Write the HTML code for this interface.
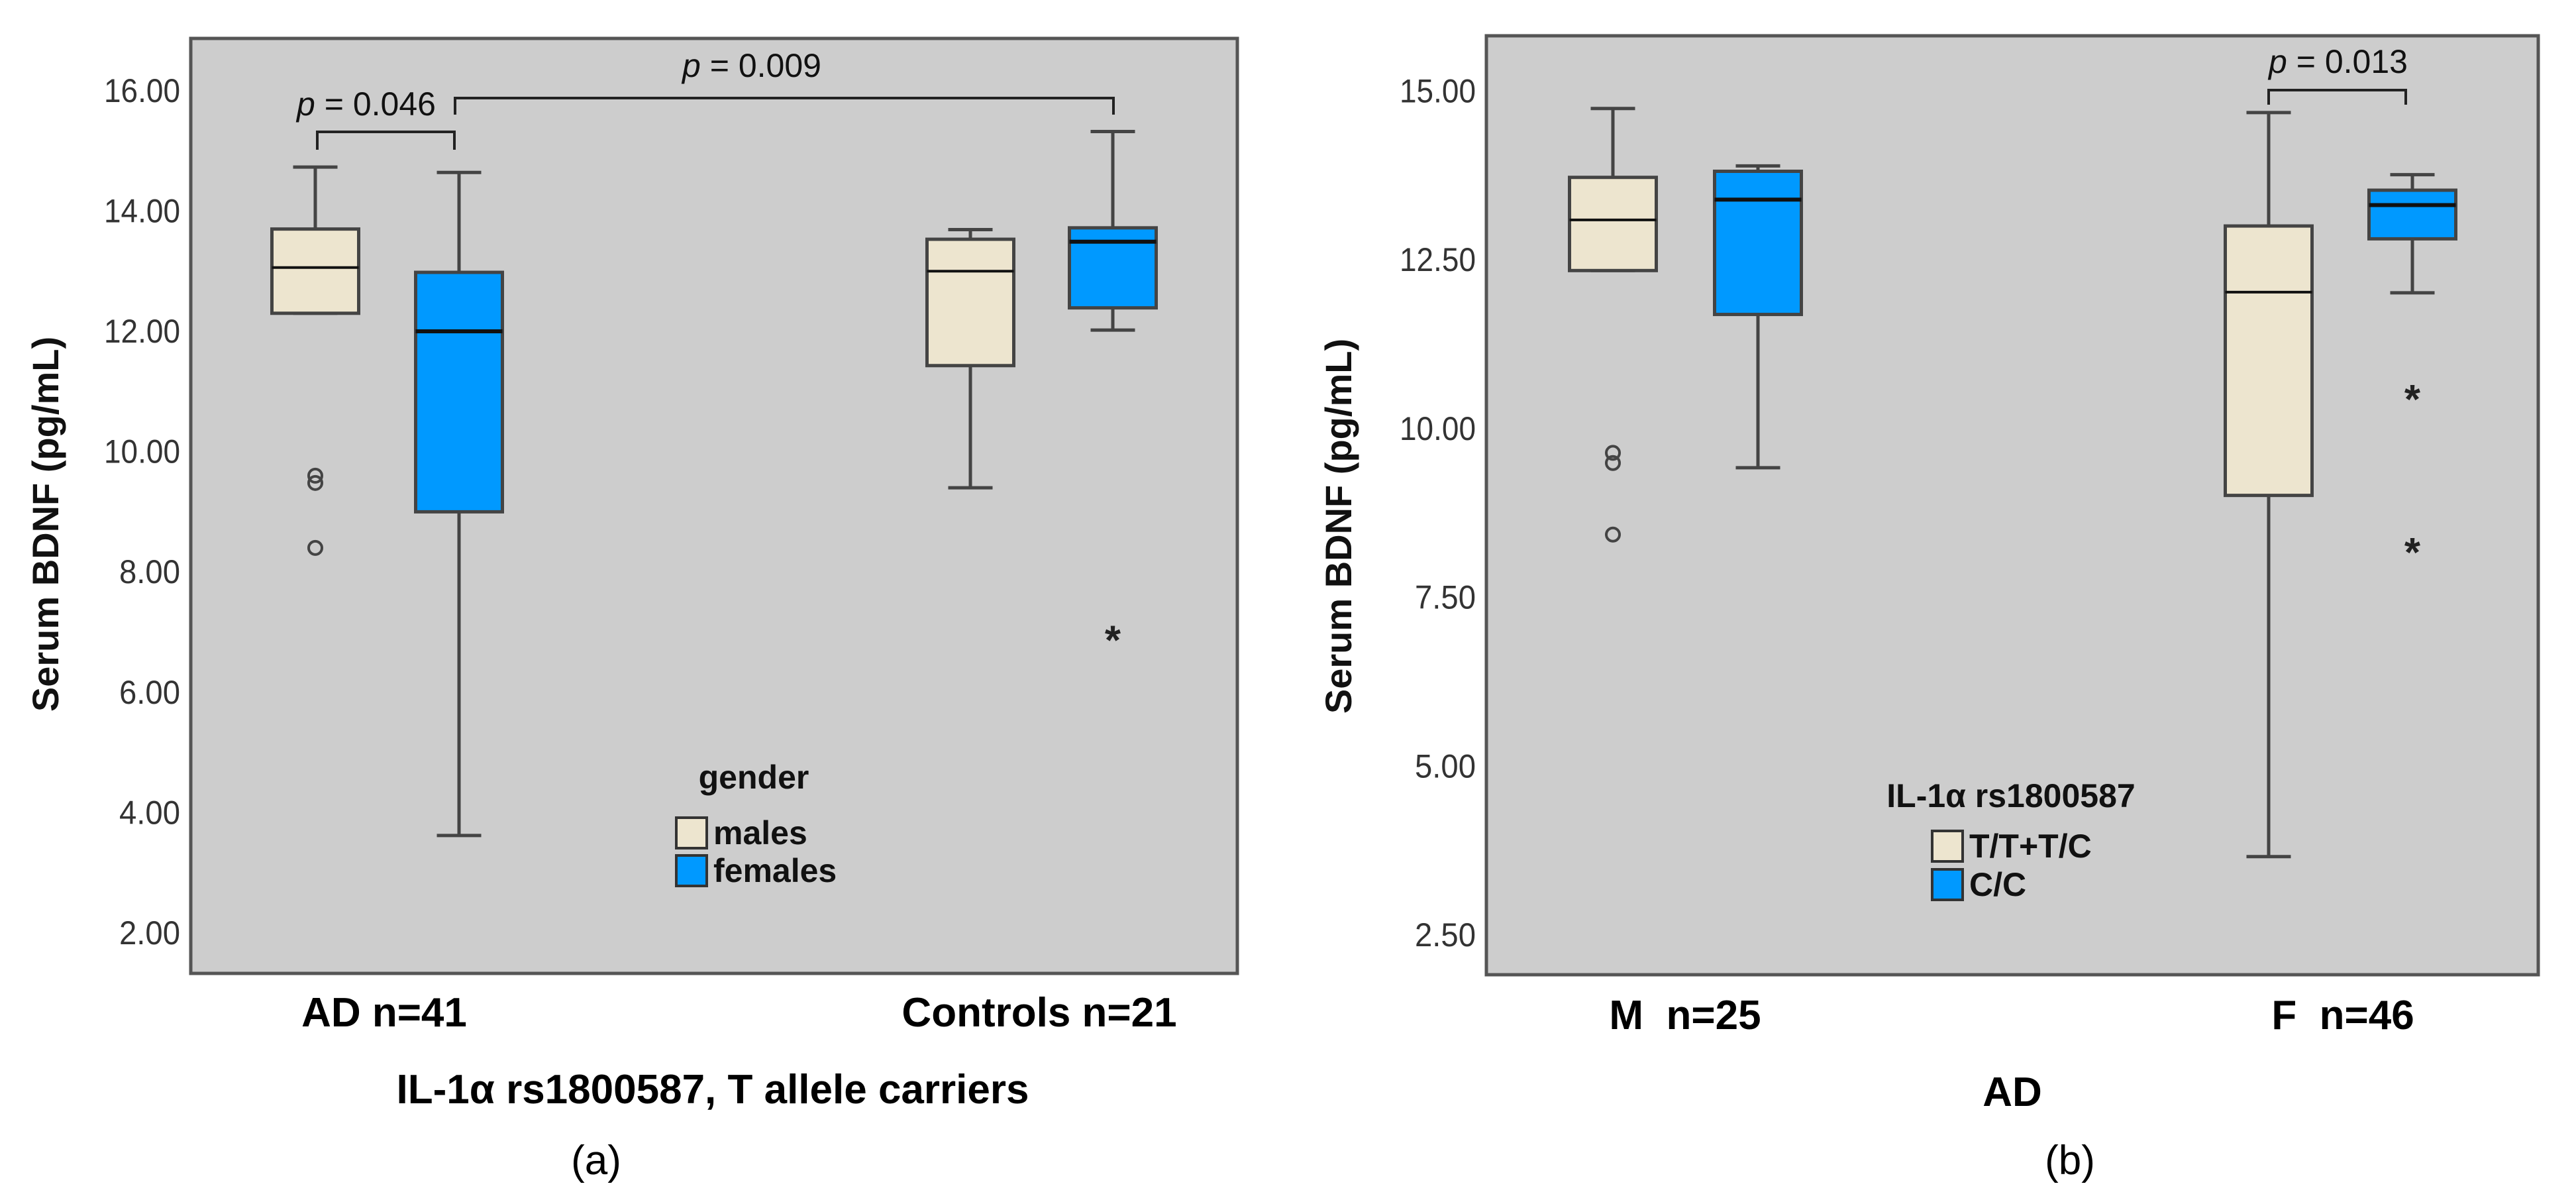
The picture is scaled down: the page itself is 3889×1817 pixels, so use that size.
<!DOCTYPE html>
<html><head><meta charset="utf-8"><style>
html,body{margin:0;padding:0;background:#fff;}
svg{display:block;}
text{font-family:"Liberation Sans",Arial,sans-serif;white-space:pre;}
</style></head><body>
<svg id="fig" width="3889" height="1817" viewBox="0 0 3889 1817" xmlns="http://www.w3.org/2000/svg">
<g id="pa"></g>
<g id="pb"></g>
</svg>
<script>
// Panel (a) data
const aTicks = [2,4,6,8,10,12,14,16];
const aTickLabels = ["2.00","4.00","6.00","8.00","10.00","12.00","14.00","16.00"];
const aGroups = ["AD n=41","Controls n=21"];
const aSeries = ["males","females"];
// [lowWhisker, Q1, median, Q3, highWhisker]
const aMales = [[12.3,12.3,13.06,13.70,14.73],[9.4,11.43,13.0,13.53,13.69]];
const aFemales = [[3.62,9.0,12.0,12.98,14.64],[12.02,12.39,13.49,13.72,15.32]];
const aOutliers = [[9.6,9.48,8.40],[],[],[]];
const aExtremes = [[],[],[],[6.96]];
// Panel (b) data
const bTicks = [2.5,5,7.5,10,12.5,15];
const bTickLabels = ["2.50","5.00","7.50","10.00","12.50","15.00"];
const bGroups = ["M  n=25","F  n=46"];
const bSeries = ["T/T+T/C","C/C"];
const bTT = [[12.34,12.34,13.09,13.72,14.74],[3.66,9.01,12.02,13.0,14.68]];
const bCC = [[9.42,11.69,13.39,13.81,13.89],[12.01,12.81,13.31,13.53,13.76]];
const bOutliers = [[9.64,9.49,8.43],[],[],[]];
const bExtremes = [[],[],[],[10.52,8.25]];

const NS="http://www.w3.org/2000/svg";
function mk(parent,tag,attrs,txt){const e=document.createElementNS(NS,tag);for(const k in attrs)e.setAttribute(k,attrs[k]);if(txt!==undefined)e.textContent=txt;parent.appendChild(e);return e;}
const COLORS=["#ede5cf","#0099ff"];

function panel(g,cfg){
  const y=v=>cfg.y0-(v-cfg.v0)*cfg.k;
  const fr=mk(g,'rect',{x:cfg.L,y:cfg.T,width:cfg.R-cfg.L,height:cfg.B-cfg.T,fill:'#cdcdcd',stroke:'#555',"stroke-width":5});
  
  
  cfg.ticks.forEach((t,i)=>{
    const e=mk(g,'text',{x:cfg.L-16,y:y(t)+17,"text-anchor":"end","font-size":50,fill:'#333',"textLength":cfg.tickLabels[i].length*23,"lengthAdjust":"spacingAndGlyphs"},cfg.tickLabels[i]);
    
    
  });
  const yt=mk(g,'text',{x:0,y:0,transform:`translate(${cfg.ytx},${cfg.yty}) rotate(-90)`,"text-anchor":"middle","font-size":56,"font-weight":"bold",fill:'#111'},"Serum BDNF (pg/mL)");
  
  
  const bw=131, cw=67;
  const boxes=[cfg.s0[0],cfg.s1[0],cfg.s0[1],cfg.s1[1]];
  boxes.forEach((d,i)=>{
    const cx=cfg.cx[i], col=COLORS[i%2];
    const bx=mk(g,'g',{});
    
    
    mk(bx,'line',{x1:cx,x2:cx,y1:y(d[4]),y2:y(d[3]),stroke:'#444',"stroke-width":5});
    mk(bx,'line',{x1:cx,x2:cx,y1:y(d[1]),y2:y(d[0]),stroke:'#444',"stroke-width":5});
    mk(bx,'line',{x1:cx-cw/2,x2:cx+cw/2,y1:y(d[4]),y2:y(d[4]),stroke:'#444',"stroke-width":5});
    mk(bx,'line',{x1:cx-cw/2,x2:cx+cw/2,y1:y(d[0]),y2:y(d[0]),stroke:'#444',"stroke-width":5});
    mk(bx,'rect',{x:cx-bw/2,y:y(d[3]),width:bw,height:y(d[1])-y(d[3]),fill:col,stroke:'#444',"stroke-width":5});
    mk(bx,'line',{x1:cx-bw/2,x2:cx+bw/2,y1:y(d[2]),y2:y(d[2]),stroke:'#111',"stroke-width":i%2?6:4});
    cfg.out[i].forEach(v=>{
      const c=mk(bx,'circle',{cx:cx,cy:y(v),r:10,fill:'none',stroke:'#444',"stroke-width":4});
      
      
    });
    cfg.ext[i].forEach(v=>{
      const s=mk(bx,'text',{x:cx,y:y(v)+30,"text-anchor":"middle","font-size":62,"font-weight":"bold",fill:'#222'},"*");
      
      
    });
  });
  cfg.groups.forEach((gname,i)=>{
    const t=mk(g,'text',{x:cfg.gx[i],y:cfg.gy,"text-anchor":"middle","font-size":62,"font-weight":"bold",fill:'#000',"xml:space":"preserve"},gname);
    
    
  });
  const xt=mk(g,'text',{x:cfg.xtx,y:cfg.xty,"text-anchor":"middle","font-size":62,"font-weight":"bold",fill:'#000'},cfg.xtitle);
  
  
  const pl=mk(g,'text',{x:cfg.plx,y:1772,"text-anchor":"middle","font-size":62,fill:'#000',"font-family":"Liberation Serif, serif"},cfg.plabel);
  
  
  const lg=mk(g,'g',{});
  
  
  mk(lg,'text',{x:cfg.lgx,y:cfg.lgty,"text-anchor":"middle","font-size":50,"font-weight":"bold",fill:'#111'},cfg.lgTitle);
  cfg.series.forEach((s,i)=>{
    const en=mk(lg,'g',{});
    
    
    mk(en,'rect',{x:cfg.swx,y:cfg.swy[i],width:46,height:46,fill:COLORS[i],stroke:'#333',"stroke-width":4});
    mk(en,'text',{x:cfg.swx+56,y:cfg.swy[i]+40,"font-size":50,"font-weight":"bold",fill:'#111'},s);
  });
  cfg.br.forEach(b=>{
    const bg=mk(g,'g',{});
    
    
    mk(bg,'path',{d:`M${b.x1},${b.yb} V${b.y} H${b.x2} V${b.yb}`,fill:'none',stroke:'#222',"stroke-width":4});
    const t=mk(bg,'text',{x:b.tx,y:b.ty,"text-anchor":"middle","font-size":50,fill:'#111',"font-family":"Liberation Sans, sans-serif"});
    mk(t,'tspan',{"font-style":"italic"},"p");
    mk(t,'tspan',{},b.label);
  });
}

panel(document.getElementById('pa'),{
  L:288,R:1868,T:58,B:1469,y0:1408,v0:2,k:90.8,
  ticks:aTicks,tickLabels:aTickLabels,ytx:88,yty:791,
  s0:aMales,s1:aFemales,cx:[476,693,1465,1680],out:aOutliers,ext:aExtremes,
  groups:aGroups,gx:[580,1569],gy:1549,xtitle:"IL-1α rs1800587, T allele carriers",xtx:1076,xty:1665,
  plabel:"(a)",plx:900,
  lgTitle:"gender",lgx:1138,lgty:1190,series:aSeries,swx:1021,swy:[1234,1291],
  br:[{x1:479,x2:686,y:199,yb:226,tx:553,ty:174,label:" = 0.046"},
      {x1:687,x2:1681,y:148,yb:173,tx:1135,ty:116,label:" = 0.009"}]
});
panel(document.getElementById('pb'),{
  L:2244,R:3832,T:54,B:1471,y0:1411,v0:2.5,k:101.9,
  ticks:bTicks,tickLabels:bTickLabels,ytx:2040,yty:794,
  s0:bTT,s1:bCC,cx:[2435,2654,3425,3642],out:bOutliers,ext:bExtremes,
  groups:bGroups,gx:[2544,3537],gy:1553,xtitle:"AD",xtx:3038,xty:1669,
  plabel:"(b)",plx:3125,
  lgTitle:"IL-1α rs1800587",lgx:3036,lgty:1218,series:bSeries,swx:2917,swy:[1254,1312],
  br:[{x1:3425,x2:3632,y:136,yb:158,tx:3530,ty:110,label:" = 0.013"}]
});
</script>
</body></html>
